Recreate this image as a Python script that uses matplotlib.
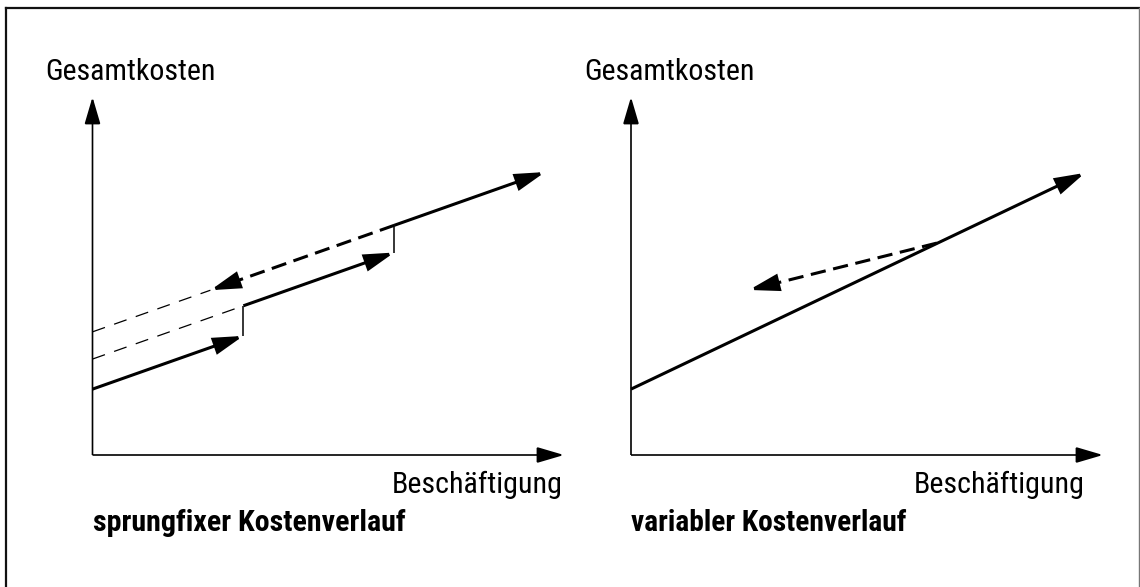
import os
import matplotlib
matplotlib.use("Agg")
import matplotlib.pyplot as plt
import matplotlib.font_manager as fm
from matplotlib.lines import Line2D

plt.rcParams['lines.scale_dashes'] = False

# ---- data (units of "Beschäftigung" / "Gesamtkosten") ----
axis_max = 10.0
# left panel: step-fixed costs
jump_x = [3.2, 6.4]
x_end_left = 9.6
fix_levels = [1.84, 2.68, 3.44]
var_rate_left = 0.465
back_tip_left = 2.5
# right panel: variable costs
fix_right = 1.84
var_rate_right = 0.628
x_end_right = 9.62
back_start_right = (6.48, 5.92)
back_tip_right = (2.5, 4.61)

y_label = "Gesamtkosten"
x_label = "Beschäftigung"
titles = ["sprungfixer Kostenverlauf", "variabler Kostenverlauf"]

# ---- pick a condensed font if one is installed ----
_files = [f.fname for f in fm.fontManager.ttflist]


def _find(patterns):
    for p in patterns:
        for f in _files:
            if os.path.basename(f).lower() == p.lower():
                return f
    return None


reg_file = _find(['RobotoCondensed-Regular.ttf', 'LiberationSansNarrow-Regular.ttf',
                  'DejaVuSansCondensed.ttf'])
bold_file = _find(['RobotoCondensed-Bold.ttf', 'LiberationSansNarrow-Bold.ttf',
                   'DejaVuSansCondensed-Bold.ttf'])
FP_REG = fm.FontProperties(fname=reg_file) if reg_file else fm.FontProperties(family='DejaVu Sans')
FP_BOLD = fm.FontProperties(fname=bold_file) if bold_file else fm.FontProperties(family='DejaVu Sans', weight='bold')

W, H = 1140, 587
fig = plt.figure(figsize=(W / 100, H / 100), dpi=100)


def px_axes(x0, y0, x1, y1):
    return fig.add_axes([x0 / W, 1 - y0 / H, (x1 - x0) / W, (y0 - y1) / H])


HEAD = '-|>,head_length=1.75,head_width=0.5'


def arrow(ax, p0, p1, lw=2.2, ls='-', head=HEAD):
    ax.annotate('', xy=p1, xytext=p0,
                arrowprops=dict(arrowstyle=head, lw=lw, color='black',
                                linestyle=ls, shrinkA=0, shrinkB=0,
                                mutation_scale=10, joinstyle='miter',
                                capstyle='butt'))


def setup(ax):
    ax.set_xlim(0, axis_max)
    ax.set_ylim(0, axis_max)
    ax.axis('off')
    axhead = '-|>,head_length=1.7,head_width=0.5'
    arrow(ax, (0, 0), (axis_max, 0), lw=1.2, head=axhead)
    arrow(ax, (0, 0), (0, axis_max), lw=1.2, head=axhead)


axL = px_axes(92.5, 455, 564, 97)
axR = px_axes(631, 455, 1103, 97)
setup(axL)
setup(axR)

# ---- left panel ----
xs = [0.0] + jump_x + [x_end_left]
for i, lvl in enumerate(fix_levels):
    x0, x1 = xs[i], xs[i + 1]
    arrow(axL, (x0, lvl + var_rate_left * x0), (x1, lvl + var_rate_left * x1))
for i, xj in enumerate(jump_x):
    axL.plot([xj, xj], [fix_levels[i] + var_rate_left * xj,
                        fix_levels[i + 1] + var_rate_left * xj],
             color='black', lw=1.1, solid_capstyle='butt')
axL.plot([0, jump_x[0]], [fix_levels[1], fix_levels[1] + var_rate_left * jump_x[0]],
         color='black', lw=0.9, dashes=(9.5, 7))
axL.plot([0, back_tip_left], [fix_levels[2], fix_levels[2] + var_rate_left * back_tip_left],
         color='black', lw=0.9, dashes=(9.5, 7))
axL.plot([jump_x[1], back_tip_left + 0.4],
         [fix_levels[2] + var_rate_left * jump_x[1],
          fix_levels[2] + var_rate_left * (back_tip_left + 0.4)],
         color='black', lw=2.2, dashes=(11, 5.5), solid_capstyle='butt')
arrow(axL, (back_tip_left + 0.6, fix_levels[2] + var_rate_left * (back_tip_left + 0.6)),
      (back_tip_left, fix_levels[2] + var_rate_left * back_tip_left))

# ---- right panel ----
arrow(axR, (0, fix_right), (x_end_right, fix_right + var_rate_right * x_end_right))
sx, sy = back_start_right
tx, ty = back_tip_right
k = (sy - ty) / (sx - tx)
axR.plot([sx, tx + 0.4], [sy, ty + k * 0.4], color='black', lw=2.2,
         dashes=(11, 5.5))
arrow(axR, (tx + 0.6, ty + k * 0.6), (tx, ty))

# ---- texts (font size fitted to the reference text width) ----
renderer = fig.canvas.get_renderer()


def ftext(x, y, s, fp, width, **kw):
    t = fig.text(x / W, 1 - y / H, s, va='baseline', color='black',
                 fontproperties=fp.copy(), **kw)
    t.set_fontsize(20)
    w = t.get_window_extent(renderer).width
    t.set_fontsize(20 * width / w)
    return t


ftext(45, 80, y_label, FP_REG, 170)
ftext(584, 80, y_label, FP_REG, 170)
ftext(563, 493, x_label, FP_REG, 171, ha='right')
ftext(1085, 493, x_label, FP_REG, 171, ha='right')
ftext(93, 531, titles[0], FP_BOLD, 312)
ftext(631, 531, titles[1], FP_BOLD, 275)

# ---- frame ----
fig.add_artist(Line2D([6 / W, 6 / W], [0, 1 - 8 / H], color='#111111', lw=1.6,
                      transform=fig.transFigure))
fig.add_artist(Line2D([6 / W, 1139 / W], [1 - 8 / H, 1 - 8 / H], color='#111111',
                      lw=1.6, transform=fig.transFigure))
fig.add_artist(Line2D([1139 / W, 1139 / W], [0, 1 - 8 / H], color='#777777',
                      lw=1.0, transform=fig.transFigure))

fig.savefig('out.png', dpi=100)
